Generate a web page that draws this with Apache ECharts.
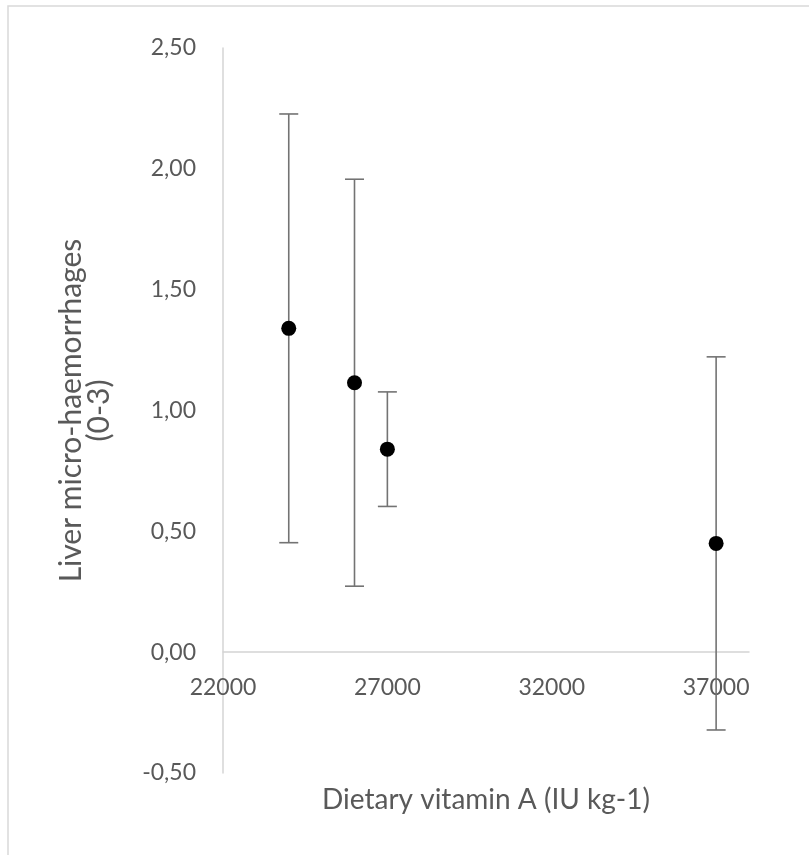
<!DOCTYPE html>
<html>
<head>
<meta charset="utf-8">
<script src="https://cdn.jsdelivr.net/npm/echarts@6/dist/echarts.min.js"></script>
<style>
  html, body { margin: 0; padding: 0; background: #ffffff; }
  #chart { width: 809px; height: 855px; }
</style>
</head>
<body>
<div id="chart"></div>
<script>
// Data
const dietaryVitaminA = [24000, 26000, 27000, 37000];
const microHaemorrhages = [1.34, 1.115, 0.84, 0.45];
const errorSD = [0.887, 0.842, 0.237, 0.772];
const xTickValues = [22000, 27000, 32000, 37000];

const FONT = 'Lato';
const chart = echarts.init(document.getElementById('chart'));

const pointData = dietaryVitaminA.map((x, i) => [x, microHaemorrhages[i]]);
const errorData = dietaryVitaminA.map((x, i) => [x, microHaemorrhages[i] - errorSD[i], microHaemorrhages[i] + errorSD[i]]);

// plot area: y from -0.5 to 2.5 over 725px; x axis crosses at y = 0
const plotHeight = 855 - 48 - 82;
const zeroOffset = -plotHeight * (0 - (-0.5)) / (2.5 - (-0.5));

chart.setOption({
  backgroundColor: '#ffffff',
  animation: false,
  graphic: [{
    type: 'rect',
    shape: { x: 8, y: 6, width: 900, height: 900 },
    style: { fill: 'none', stroke: '#d9d9d9', lineWidth: 1.5 },
    silent: true,
    z: -10
  }],
  grid: { left: 223, right: 60, top: 48, bottom: 82, outerBoundsMode: 'none', containLabel: false },
  xAxis: {
    type: 'value',
    min: 22000,
    max: 38000,
    offset: zeroOffset,
    axisLine: { onZero: false, lineStyle: { color: '#d4d4d4', width: 1.5 } },
    axisTick: { show: false },
    splitLine: { show: false },
    axisLabel: {
      customValues: xTickValues,
      color: '#595959',
      fontFamily: FONT,
      fontSize: 23,
      margin: 24,
      formatter: v => String(v)
    },
    name: 'Dietary vitamin A (IU kg-1)',
    nameLocation: 'middle',
    nameGap: 134,
    nameTextStyle: { color: '#595959', fontFamily: FONT, fontSize: 28 }
  },
  yAxis: {
    type: 'value',
    min: -0.5,
    max: 2.5,
    interval: 0.5,
    axisLine: { show: true, lineStyle: { color: '#d4d4d4', width: 1.5 } },
    axisTick: { show: false },
    splitLine: { show: false },
    axisLabel: {
      color: '#595959',
      fontFamily: FONT,
      fontSize: 23,
      margin: 27,
      formatter: v => v.toFixed(2).replace('.', ',')
    },
    name: 'Liver micro-haemorrhages\n(0-3)',
    nameLocation: 'middle',
    nameRotate: 90,
    nameGap: 110,
    nameTextStyle: { color: '#595959', fontFamily: FONT, fontSize: 30, lineHeight: 28 }
  },
  series: [
    {
      type: 'custom',
      data: errorData,
      encode: { x: 0, y: [1, 2] },
      renderItem: function (params, api) {
        const x = api.value(0);
        const lo = api.coord([x, api.value(1)]);
        const hi = api.coord([x, api.value(2)]);
        const cap = 9.5;
        const style = { stroke: '#737373', lineWidth: 1.6 };
        return {
          type: 'group',
          children: [
            { type: 'line', shape: { x1: lo[0], y1: lo[1], x2: hi[0], y2: hi[1] }, style: style },
            { type: 'line', shape: { x1: lo[0] - cap, y1: lo[1], x2: lo[0] + cap, y2: lo[1] }, style: style },
            { type: 'line', shape: { x1: hi[0] - cap, y1: hi[1], x2: hi[0] + cap, y2: hi[1] }, style: style }
          ]
        };
      },
      z: 1
    },
    {
      type: 'scatter',
      data: pointData,
      symbol: 'circle',
      symbolSize: 15,
      itemStyle: { color: '#000000', opacity: 1 },
      z: 2
    }
  ]
});
</script>
</body>
</html>
